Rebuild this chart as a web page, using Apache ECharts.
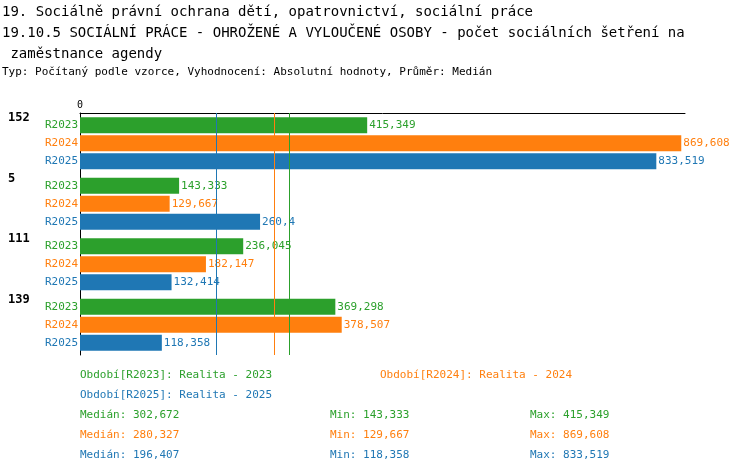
<!DOCTYPE html><html><head><meta charset="utf-8"><script src="https://cdn.jsdelivr.net/npm/echarts@6/dist/echarts.min.js"></script></head><body style="margin:0"><div id="c" style="width:750px;height:474px"></div><script>
const categories=['152','5','111','139'];
const seriesNames=['R2023','R2024','R2025'];
const colors=['#2ca02c','#ff7f0e','#1f77b4'];
const r2023=[415.349,143.333,236.045,369.298];
const r2024=[869.608,129.667,182.147,378.507];
const r2025=[833.519,260.4,132.414,118.358];
const medians=[302.672,280.327,196.407];
const mins=['143,333','129,667','118,358'];
const maxs=['415,349','869,608','833,519'];
const medTxt=['302,672','280,327','196,407'];
const F='DejaVu Sans Mono';
const fmt=v=>String(+v.toFixed(3)).replace('.',',');
const vals=[r2023,r2024,r2025];
const series=[];
seriesNames.forEach((n,i)=>{
 series.push({type:'bar',stack:n,data:categories.map(()=>0),barWidth:16,barGap:'12.5%',barCategoryGap:'14%',itemStyle:{color:colors[i]},
  label:{show:true,position:'left',distance:2,formatter:n,color:colors[i],fontFamily:F,fontSize:11}});
 series.push({type:'bar',stack:n,data:vals[i],barWidth:16,itemStyle:{color:colors[i]},
  label:{show:true,position:'right',distance:2,formatter:p=>fmt(p.value),color:colors[i],fontFamily:F,fontSize:11},
  markLine:{silent:true,symbol:'none',label:{show:false},lineStyle:{color:colors[i],width:1,type:'solid'},data:[{xAxis:medians[i]}]}});
});
const g=[];
const t=(x,y,s,c)=>g.push({type:'text',left:x,top:y,style:{text:s,fill:c,font:'11px '+F}});
t(80,370,'Období[R2023]: Realita - 2023',colors[0]);
t(380,370,'Období[R2024]: Realita - 2024',colors[1]);
t(80,390,'Období[R2025]: Realita - 2025',colors[2]);
for(let i=0;i<3;i++){const y=410+i*20;t(80,y,'Medián: '+medTxt[i],colors[i]);t(330,y,'Min: '+mins[i],colors[i]);t(530,y,'Max: '+maxs[i],colors[i]);}
g.push({type:'text',left:2,top:2,style:{text:'19. Sociálně právní ochrana dětí, opatrovnictví, sociální práce\n19.10.5 SOCIÁLNÍ PRÁCE - OHROŽENÉ A VYLOUČENÉ OSOBY - počet sociálních šetření na\n zaměstnance agendy',fill:'#000',font:'14px '+F,lineHeight:21}});
g.push({type:'text',left:2,top:67,style:{text:'Typ: Počítaný podle vzorce, Vyhodnocení: Absolutní hodnoty, Průměr: Medián',fill:'#000',font:'11px '+F}});
const ch=echarts.init(document.getElementById('c'));
ch.setOption({animation:false,grid:{left:80,right:65,top:113,bottom:119},
 xAxis:{type:'value',position:'top',min:0,max:875,splitLine:{show:false},axisTick:{show:false},axisLine:{show:true,lineStyle:{color:'#000'}},
  axisLabel:{formatter:v=>v===0?'0':'',color:'#000',fontFamily:F,fontSize:10,margin:3}},
 yAxis:{type:'category',inverse:true,data:categories,axisTick:{show:false},axisLine:{lineStyle:{color:'#000'}},
  axisLabel:{align:'left',margin:72,fontWeight:'bold',color:'#000',fontFamily:F,fontSize:12,verticalAlign:'bottom',lineHeight:50}},
 series,graphic:g});
</script></body></html>
